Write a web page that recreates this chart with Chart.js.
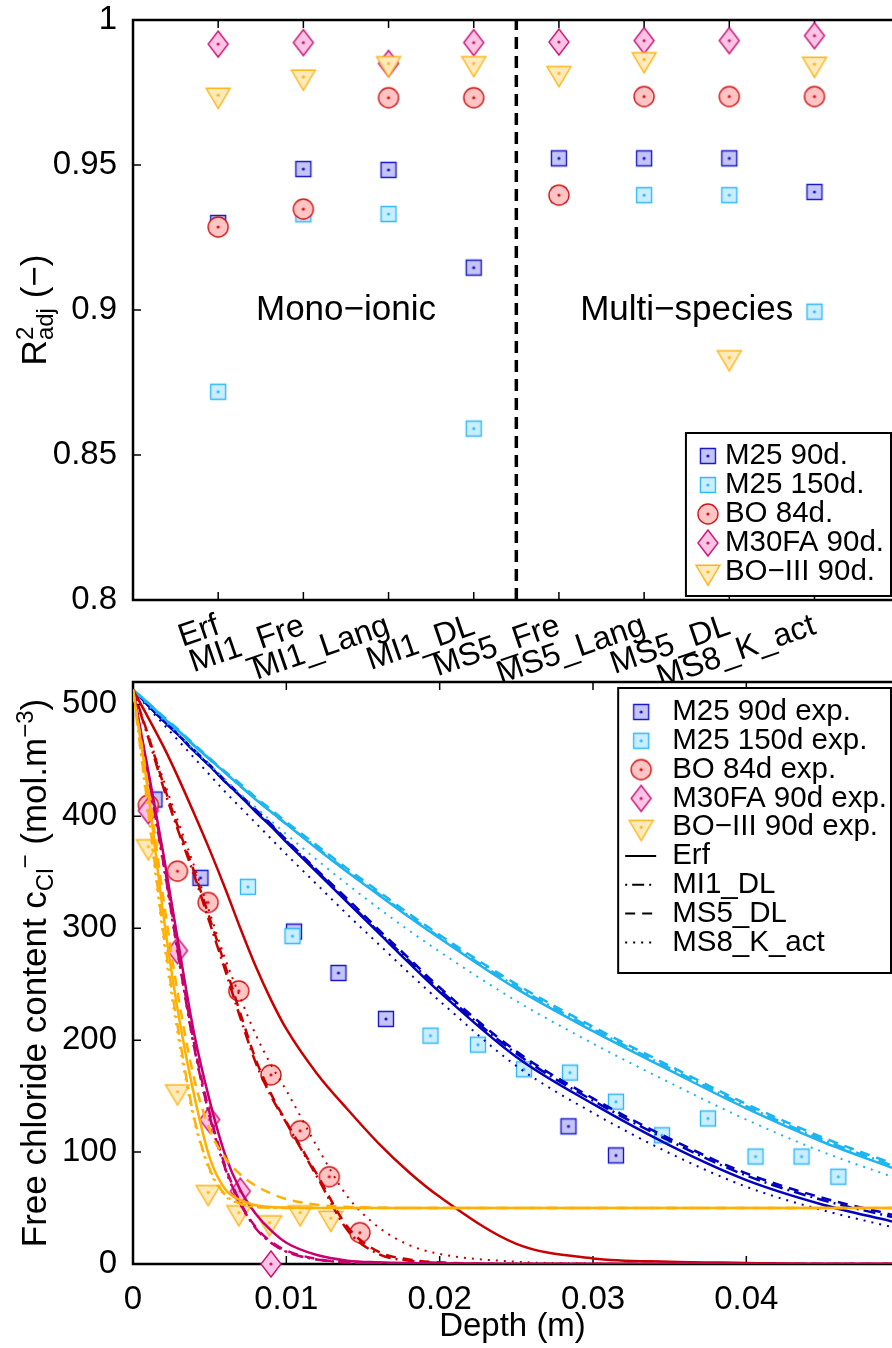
<!DOCTYPE html>
<html>
<head>
<meta charset="utf-8">
<title>Chloride models: fit quality and profiles</title>
<script src="https://cdn.jsdelivr.net/npm/chart.js@4.4.1/dist/chart.umd.min.js"></script>
<style>
  body { margin: 0; background: #fff; }
  #page { position: relative; width: 892px; height: 1348px; overflow: hidden; }
  #page canvas { position: absolute; left: 0; }
</style>
</head>
<body>
<div id="page">
  <canvas id="fitChart" width="892" height="682" style="top:0"></canvas>
  <canvas id="profileChart" width="892" height="688" style="top:660px"></canvas>
</div>
<script>
// ---------- top plot: adjusted R^2 of every model, per mix ----------
const models = ['Erf', 'MI1_Fre', 'MI1_Lang', 'MI1_DL', 'MS5_Fre', 'MS5_Lang', 'MS5_DL', 'MS8_K_act'];
const r2M25_90  = [0.930, 0.9486, 0.9483, 0.9146, 0.9523, 0.9523, 0.9523, 0.9407];
const r2M25_150 = [0.8718, 0.933, 0.9331, 0.8591, 0.9396, 0.9396, 0.9396, 0.8994];
const r2BO84    = [0.9286, 0.9348, 0.9732, 0.9732, 0.9396, 0.9736, 0.9736, 0.9736];
const r2M30FA   = [0.9917, 0.9922, 0.985, 0.9922, 0.9924, 0.9929, 0.9929, 0.9946];
const r2BOIII   = [0.9741, 0.9804, 0.985, 0.985, 0.9816, 0.9864, 0.8836, 0.9848];
const fitLabels = ['M25 90d.', 'M25 150d.', 'BO 84d.', 'M30FA 90d.', 'BO\u2212III 90d.'];
const regionText = ['Mono\u2212ionic', 'Multi\u2212species'];
const regionX = [2.5, 6.5];
const regionY = 0.9;
const splitAt = 4.5;   // between mono-ionic and multi-species models

// ---------- bottom plot: measured and modelled free chloride ----------
const expLabels = ['M25 90d exp.', 'M25 150d exp.', 'BO 84d exp.', 'M30FA 90d exp.', 'BO\u2212III 90d exp.'];
const depthExpM25_90  = [0.0014, 0.0044, 0.0105, 0.0134, 0.0165, 0.0284, 0.0315];
const clExpM25_90     = [415, 345, 297, 260, 219, 123, 97];
const depthExpM25_150 = [0.0075, 0.0104, 0.0194, 0.0225, 0.0255, 0.0285, 0.0315, 0.0345, 0.0375, 0.0406, 0.0436, 0.046];
const clExpM25_150    = [337, 293, 204, 196, 174, 171, 145, 115, 130, 96, 96, 78];
const depthExpBO84    = [0.001, 0.0029, 0.0049, 0.0069, 0.009, 0.0109, 0.0128, 0.0148];
const clExpBO84       = [410, 351, 323, 244, 169, 119, 78, 28];
const depthExpM30FA   = [0.001, 0.0029, 0.005, 0.007, 0.009];
const clExpM30FA      = [405, 280, 129, 65, 0];
const depthExpBOIII   = [0.001, 0.0029, 0.0049, 0.0069, 0.0089, 0.0109, 0.0129];
const clExpBOIII      = [373, 154, 64, 46, 37, 46, 41];

// model curves, read at these depths (m)
const modelNames = ['Erf', 'MI1_DL', 'MS5_DL', 'MS8_K_act'];
const depthGrid = [0, 0.001, 0.002, 0.003, 0.004, 0.005, 0.006, 0.007, 0.008, 0.009, 0.010,
                   0.012, 0.014, 0.016, 0.018, 0.020, 0.025, 0.030, 0.035, 0.040, 0.045, 0.0495];
const erfM25_90  = [513, 499, 485, 472, 458, 445, 431, 418, 404, 391, 377, 350, 323, 296, 269, 243, 185, 143, 106, 75, 53, 38];
const mi1M25_90  = [513, 499, 485, 472, 458, 445, 431, 418, 405, 392, 378, 351, 324, 297, 271, 245, 188, 146, 110, 79, 57, 42];
const ms5M25_90  = [513, 499, 486, 472, 459, 446, 432, 419, 406, 393, 379, 352, 326, 299, 273, 247, 190, 148, 112, 81, 59, 44];
const ms8M25_90  = [513, 497, 482, 467, 452, 437, 422, 408, 394, 380, 366, 339, 312, 286, 260, 235, 177, 135, 99, 69, 48, 33];
const erfM25_150 = [513, 501, 488, 476, 463, 451, 439, 427, 415, 404, 393, 371, 350, 330, 310, 291, 246, 208, 173, 139, 109, 86];
const mi1M25_150 = [513, 501, 488, 476, 463, 451, 439, 427, 416, 404, 393, 372, 351, 331, 311, 292, 248, 210, 175, 141, 111, 88];
const ms5M25_150 = [513, 501, 489, 477, 464, 452, 440, 429, 417, 406, 395, 374, 353, 333, 313, 294, 250, 212, 177, 143, 113, 90];
const ms8M25_150 = [513, 499, 486, 473, 459, 446, 433, 420, 408, 396, 384, 361, 339, 318, 298, 279, 235, 197, 162, 129, 100, 78];
const erfBO84    = [513, 488, 462, 433, 402, 370, 336, 300, 266, 236, 210, 170, 138, 108, 82, 60, 18, 5, 2, 1, 0, 0];
const mi1BO84    = [513, 470, 425, 385, 347, 305, 263, 220, 180, 150, 126, 78, 30, 9, 3, 1, 0, 0, 0, 0, 0, 0];
const ms5BO84    = [513, 472, 428, 388, 350, 309, 267, 224, 183, 152, 127, 80, 33, 11, 4, 1.5, 0, 0, 0, 0, 0, 0];
const ms8BO84    = [513, 472, 432, 393, 355, 314, 273, 238, 205, 178, 155, 105, 60, 33, 17, 9, 2, 0.5, 0, 0, 0, 0];
const erfM30FA   = [513, 440, 365, 283, 205, 146, 98, 66, 45, 30, 19, 8, 3, 1.5, 0.8, 0.5, 0, 0, 0, 0, 0, 0];
const mi1M30FA   = [513, 436, 357, 272, 193, 132, 86, 54, 32, 19, 11, 4, 1.5, 0.7, 0.3, 0, 0, 0, 0, 0, 0, 0];
const ms5M30FA   = [513, 438, 360, 275, 196, 135, 88, 55, 33, 20, 12, 4.5, 1.5, 0.7, 0.3, 0, 0, 0, 0, 0, 0, 0];
const ms8M30FA   = [513, 434, 354, 270, 192, 131, 85, 53, 32, 19, 11, 4, 1.5, 0.7, 0.3, 0, 0, 0, 0, 0, 0, 0];
const erfBOIII   = [513, 420, 310, 220, 150, 95, 67, 57, 52.5, 51, 50.5, 50, 50, 50, 50, 50, 50, 50, 50, 50, 50, 50];
const mi1BOIII   = [513, 405, 295, 205, 130, 85, 62, 54, 51, 50.3, 50, 50, 50, 50, 50, 50, 50, 50, 50, 50, 50, 50];
const ms5BOIII   = [513, 425, 325, 235, 165, 120, 95, 80, 70, 63, 58, 53, 51, 50.3, 50, 50, 50, 50, 50, 50, 50, 50];
const ms8BOIII   = [513, 400, 288, 198, 127, 83, 61, 53.5, 50.8, 50.2, 50, 50, 50, 50, 50, 50, 50, 50, 50, 50, 50, 50];

// ---------- styles ----------
const FONT = '"Liberation Sans", Arial, Helvetica, sans-serif';
const mixEdge  = ['rgb(25,25,200)', 'rgb(50,185,250)', 'rgb(210,20,20)', 'rgb(200,20,120)', 'rgb(255,180,20)'];
const mixFace  = ['rgb(196,196,246)', 'rgb(200,238,255)', 'rgb(255,196,196)', 'rgb(255,196,228)', 'rgb(255,234,188)'];
const mixLine  = ['rgb(0,0,190)', 'rgb(30,180,240)', 'rgb(200,0,0)', 'rgb(200,0,110)', 'rgb(255,176,0)'];
const mixShape = ['square', 'square', 'circle', 'diamond', 'triangle'];
const modelDash  = [[], [12, 5, 2, 5], [10, 7], [2, 6]];
const modelWidth = [2.5, 2.5, 2.5, 2];

Chart.defaults.font.family = FONT;
Chart.defaults.color = '#000';

// marker with a filled face and a small dot in the middle (drawn once, used as pointStyle)
function makeMarker(shape, edge, face) {
    const c = document.createElement('canvas');
    c.width = 32; c.height = 32;
    const g = c.getContext('2d');
    g.translate(16, 16);
    g.lineWidth = 1.4;
    g.strokeStyle = edge;
    g.fillStyle = face;
    g.beginPath();
    if (shape === 'square') {
        g.rect(-7.5, -7.5, 15, 15);
    } else if (shape === 'circle') {
        g.arc(0, 0, 10, 0, Math.PI * 2);
    } else if (shape === 'diamond') {
        g.moveTo(0, -13); g.lineTo(10, 0); g.lineTo(0, 13); g.lineTo(-10, 0); g.closePath();
    } else {
        g.moveTo(-12, -6.7); g.lineTo(12, -6.7); g.lineTo(0, 13.3); g.closePath();
    }
    g.fill();
    g.stroke();
    g.beginPath();
    g.fillStyle = edge;
    g.arc(0, 0, 1.6, 0, Math.PI * 2);
    g.fill();
    return c;
}
const markers = mixShape.map((s, i) => makeMarker(s, mixEdge[i], mixFace[i]));

// keep the plot box where the original has it (no extra room for tick labels)
function fixedSize(prop, size) {
    return ax => {
        ax[prop] = size;
        ax.paddingTop = 0; ax.paddingBottom = 0;
        ax.paddingLeft = 0; ax.paddingRight = 0;
    };
}

// axes box with inward ticks (left, bottom and top)
const boxAxes = {
    id: 'boxAxes',
    beforeDatasetsDraw(chart) {
        const {ctx, chartArea: a, scales} = chart;
        ctx.save();
        ctx.strokeStyle = '#000';
        ctx.lineWidth = 2.5;
        ctx.beginPath();
        ctx.moveTo(a.right + 2, a.top);
        ctx.lineTo(a.left, a.top);
        ctx.lineTo(a.left, a.bottom);
        ctx.lineTo(a.right + 2, a.bottom);
        ctx.stroke();
        ctx.lineWidth = 1.5;
        ctx.beginPath();
        scales.x.ticks.forEach(t => {
            const px = scales.x.getPixelForValue(t.value);
            if (px < a.left + 2) return;
            ctx.moveTo(px, a.bottom); ctx.lineTo(px, a.bottom - 8);
            ctx.moveTo(px, a.top); ctx.lineTo(px, a.top + 8);
        });
        scales.y.ticks.forEach(t => {
            const py = scales.y.getPixelForValue(t.value);
            if (py > a.bottom - 2) return;
            ctx.moveTo(a.left, py); ctx.lineTo(a.left + 8, py);
        });
        ctx.stroke();
        ctx.restore();
    }
};

// vertical axis title with sub/superscripts
function sideTitle(parts) {
    return {
        id: 'sideTitle',
        afterDraw(chart) {
            const {ctx, chartArea: a} = chart;
            ctx.save();
            let total = 0;
            parts.forEach(p => {
                ctx.font = p.size + 'px ' + FONT;
                p.w = ctx.measureText(p.text).width;
                if (!p.stack) total += p.w;
            });
            ctx.translate(46, (a.top + a.bottom) / 2);
            ctx.rotate(-Math.PI / 2);
            ctx.fillStyle = '#000';
            ctx.textBaseline = 'alphabetic';
            let pen = -total / 2;
            parts.forEach(p => {
                ctx.font = p.size + 'px ' + FONT;
                ctx.fillText(p.text, pen, p.shift || 0);
                if (!p.stack) pen += p.w;
            });
            ctx.restore();
        }
    };
}

// boxed legend in the upper/lower right corner
function boxLegend(rows, opt) {
    return {
        id: 'boxLegend',
        afterDraw(chart) {
            const {ctx, chartArea: a} = chart;
            ctx.save();
            ctx.font = '29.5px ' + FONT;
            const maxW = Math.max(...rows.map(r => ctx.measureText(r.text).width));
            const w = opt.textX + maxW + opt.padRight;
            const h = opt.head + (rows.length - 1) * opt.rowH + opt.tail;
            const right = a.right - 1;
            const left = right - w;
            const top = opt.top !== undefined ? a.top + opt.top : a.bottom - opt.bottom - h;
            ctx.fillStyle = '#fff';
            ctx.fillRect(left, top, w, h);
            ctx.strokeStyle = '#000';
            ctx.lineWidth = 2;
            ctx.strokeRect(left, top, w, h);
            rows.forEach((r, i) => {
                const cy = top + opt.head + i * opt.rowH;
                if (r.marker) {
                    ctx.drawImage(r.marker, left + opt.markX - 16, cy - 16);
                } else {
                    ctx.setLineDash(r.dash);
                    ctx.lineDashOffset = r.dashOffset || 0;
                    ctx.lineWidth = 2;
                    ctx.beginPath();
                    ctx.moveTo(left + 7, cy);
                    ctx.lineTo(left + 38, cy);
                    ctx.stroke();
                    ctx.setLineDash([]);
                }
                ctx.fillStyle = '#000';
                ctx.textBaseline = 'middle';
                ctx.fillText(r.text, left + opt.textX, cy);
            });
            ctx.restore();
        }
    };
}

// "Mono-ionic" / "Multi-species" notes on the top plot
const regionNotes = {
    id: 'regionNotes',
    afterDatasetsDraw(chart) {
        const {ctx, scales: {x, y}} = chart;
        ctx.save();
        ctx.font = '35px ' + FONT;
        ctx.textAlign = 'center';
        ctx.textBaseline = 'middle';
        ctx.fillStyle = '#000';
        regionText.forEach((t, i) => ctx.fillText(t, x.getPixelForValue(regionX[i]), y.getPixelForValue(regionY)));
        ctx.restore();
    }
};

const tickFont = {family: FONT, size: 33};

// ---------- top chart ----------
const r2Series = [r2M25_90, r2M25_150, r2BO84, r2M30FA, r2BOIII];
const fitDatasets = r2Series.map((vals, i) => ({
    label: fitLabels[i],
    data: vals.map((v, k) => ({x: k + 1, y: v})),
    pointStyle: markers[i],
    pointRadius: 10,
    showLine: false,
    clip: false,
    order: 10 - i
}));
fitDatasets.push({
    label: 'split',
    data: [{x: splitAt, y: 0.8}, {x: splitAt, y: 1}],
    showLine: true,
    borderColor: '#000',
    borderWidth: 3.5,
    borderDash: [12, 7],
    pointRadius: 0,
    order: 0
});

new Chart(document.getElementById('fitChart'), {
    type: 'scatter',
    data: {datasets: fitDatasets},
    options: {
        responsive: false,
        animation: false,
        events: [],
        layout: {autoPadding: false, padding: {top: 20, left: 0, right: 0, bottom: 0}},
        plugins: {legend: {display: false}, tooltip: {enabled: false}},
        scales: {
            x: {
                type: 'linear', min: 0, max: 8.91,
                afterBuildTicks: ax => { ax.ticks = models.map((m, i) => ({value: i + 1})); },
                afterFit: fixedSize('height', 82),
                grid: {display: false},
                border: {display: false},
                ticks: {
                    autoSkip: false, minRotation: 19, maxRotation: 19, padding: 2,
                    font: {family: FONT, size: 32, lineHeight: 1}, color: '#000',
                    callback: v => models[Math.round(v) - 1]
                }
            },
            y: {
                type: 'linear', min: 0.8, max: 1,
                afterFit: fixedSize('width', 133),
                grid: {display: false},
                border: {display: false},
                ticks: {stepSize: 0.05, padding: 8, font: tickFont, color: '#000',
                        callback: v => String(+v.toFixed(2))}
            }
        }
    },
    plugins: [
        boxAxes,
        regionNotes,
        sideTitle([
            {text: 'R', size: 35},
            {text: '2', size: 24, shift: -13, stack: true},
            {text: 'adj', size: 24, shift: 7},
            {text: ' (\u2212)', size: 35}
        ]),
        boxLegend(fitLabels.map((t, i) => ({text: t, marker: markers[i]})),
                  {bottom: 4, head: 23, rowH: 29, tail: 24, markX: 22, textX: 39, padRight: 7})
    ]
});

// ---------- bottom chart ----------
const expDepth = [depthExpM25_90, depthExpM25_150, depthExpBO84, depthExpM30FA, depthExpBOIII];
const expCl = [clExpM25_90, clExpM25_150, clExpBO84, clExpM30FA, clExpBOIII];
const curveSets = [
    [erfM25_90, mi1M25_90, ms5M25_90, ms8M25_90],
    [erfM25_150, mi1M25_150, ms5M25_150, ms8M25_150],
    [erfBO84, mi1BO84, ms5BO84, ms8BO84],
    [erfM30FA, mi1M30FA, ms5M30FA, ms8M30FA],
    [erfBOIII, mi1BOIII, ms5BOIII, ms8BOIII]
];

const profileDatasets = [];
expDepth.forEach((depths, i) => {
    profileDatasets.push({
        label: expLabels[i],
        data: depths.map((d, k) => ({x: d, y: expCl[i][k]})),
        pointStyle: markers[i],
        pointRadius: 10,
        showLine: false,
        clip: false,
        order: 30 - i
    });
});
curveSets.forEach((set, i) => {
    set.forEach((vals, m) => {
        profileDatasets.push({
            label: expLabels[i] + ' ' + modelNames[m],
            data: depthGrid.map((d, k) => ({x: d, y: vals[k]})),
            showLine: true,
            pointRadius: 0,
            borderColor: mixLine[i],
            borderWidth: modelWidth[m],
            borderDash: modelDash[m],
            cubicInterpolationMode: 'monotone',
            order: 10 - i
        });
    });
});

const profileLegendRows = expLabels.map((t, i) => ({text: t, marker: markers[i]}))
    .concat(modelNames.map((t, m) => ({text: t, dash: modelDash[m], dashOffset: m === 1 ? 17 : 0})));

new Chart(document.getElementById('profileChart'), {
    type: 'scatter',
    data: {datasets: profileDatasets},
    options: {
        responsive: false,
        animation: false,
        events: [],
        layout: {autoPadding: false, padding: {top: 22, left: 0, right: 0, bottom: 0}},
        plugins: {legend: {display: false}, tooltip: {enabled: false}},
        scales: {
            x: {
                type: 'linear', min: 0, max: 0.0495,
                afterFit: fixedSize('height', 84),
                grid: {display: false},
                border: {display: false},
                title: {display: true, text: 'Depth (m)', font: tickFont, color: '#000', padding: {top: 0, bottom: 1}},
                ticks: {stepSize: 0.01, includeBounds: false, padding: 8, font: tickFont, color: '#000',
                        callback: v => String(+v.toFixed(2))}
            },
            y: {
                type: 'linear', min: 0, max: 520,
                afterFit: fixedSize('width', 133),
                grid: {display: false},
                border: {display: false},
                ticks: {stepSize: 100, includeBounds: false, padding: 8, font: tickFont, color: '#000'}
            }
        }
    },
    plugins: [
        boxAxes,
        sideTitle([
            {text: 'Free chloride content c', size: 35},
            {text: 'Cl', size: 24, shift: 7},
            {text: '\u2212', size: 24, shift: -13},
            {text: ' (mol.m', size: 35},
            {text: '\u22123', size: 24, shift: -13},
            {text: ')', size: 35}
        ]),
        boxLegend(profileLegendRows,
                  {top: 6, head: 24, rowH: 28.8, tail: 30.6, markX: 23, textX: 54, padRight: 4})
    ]
});
</script>
</body>
</html>
